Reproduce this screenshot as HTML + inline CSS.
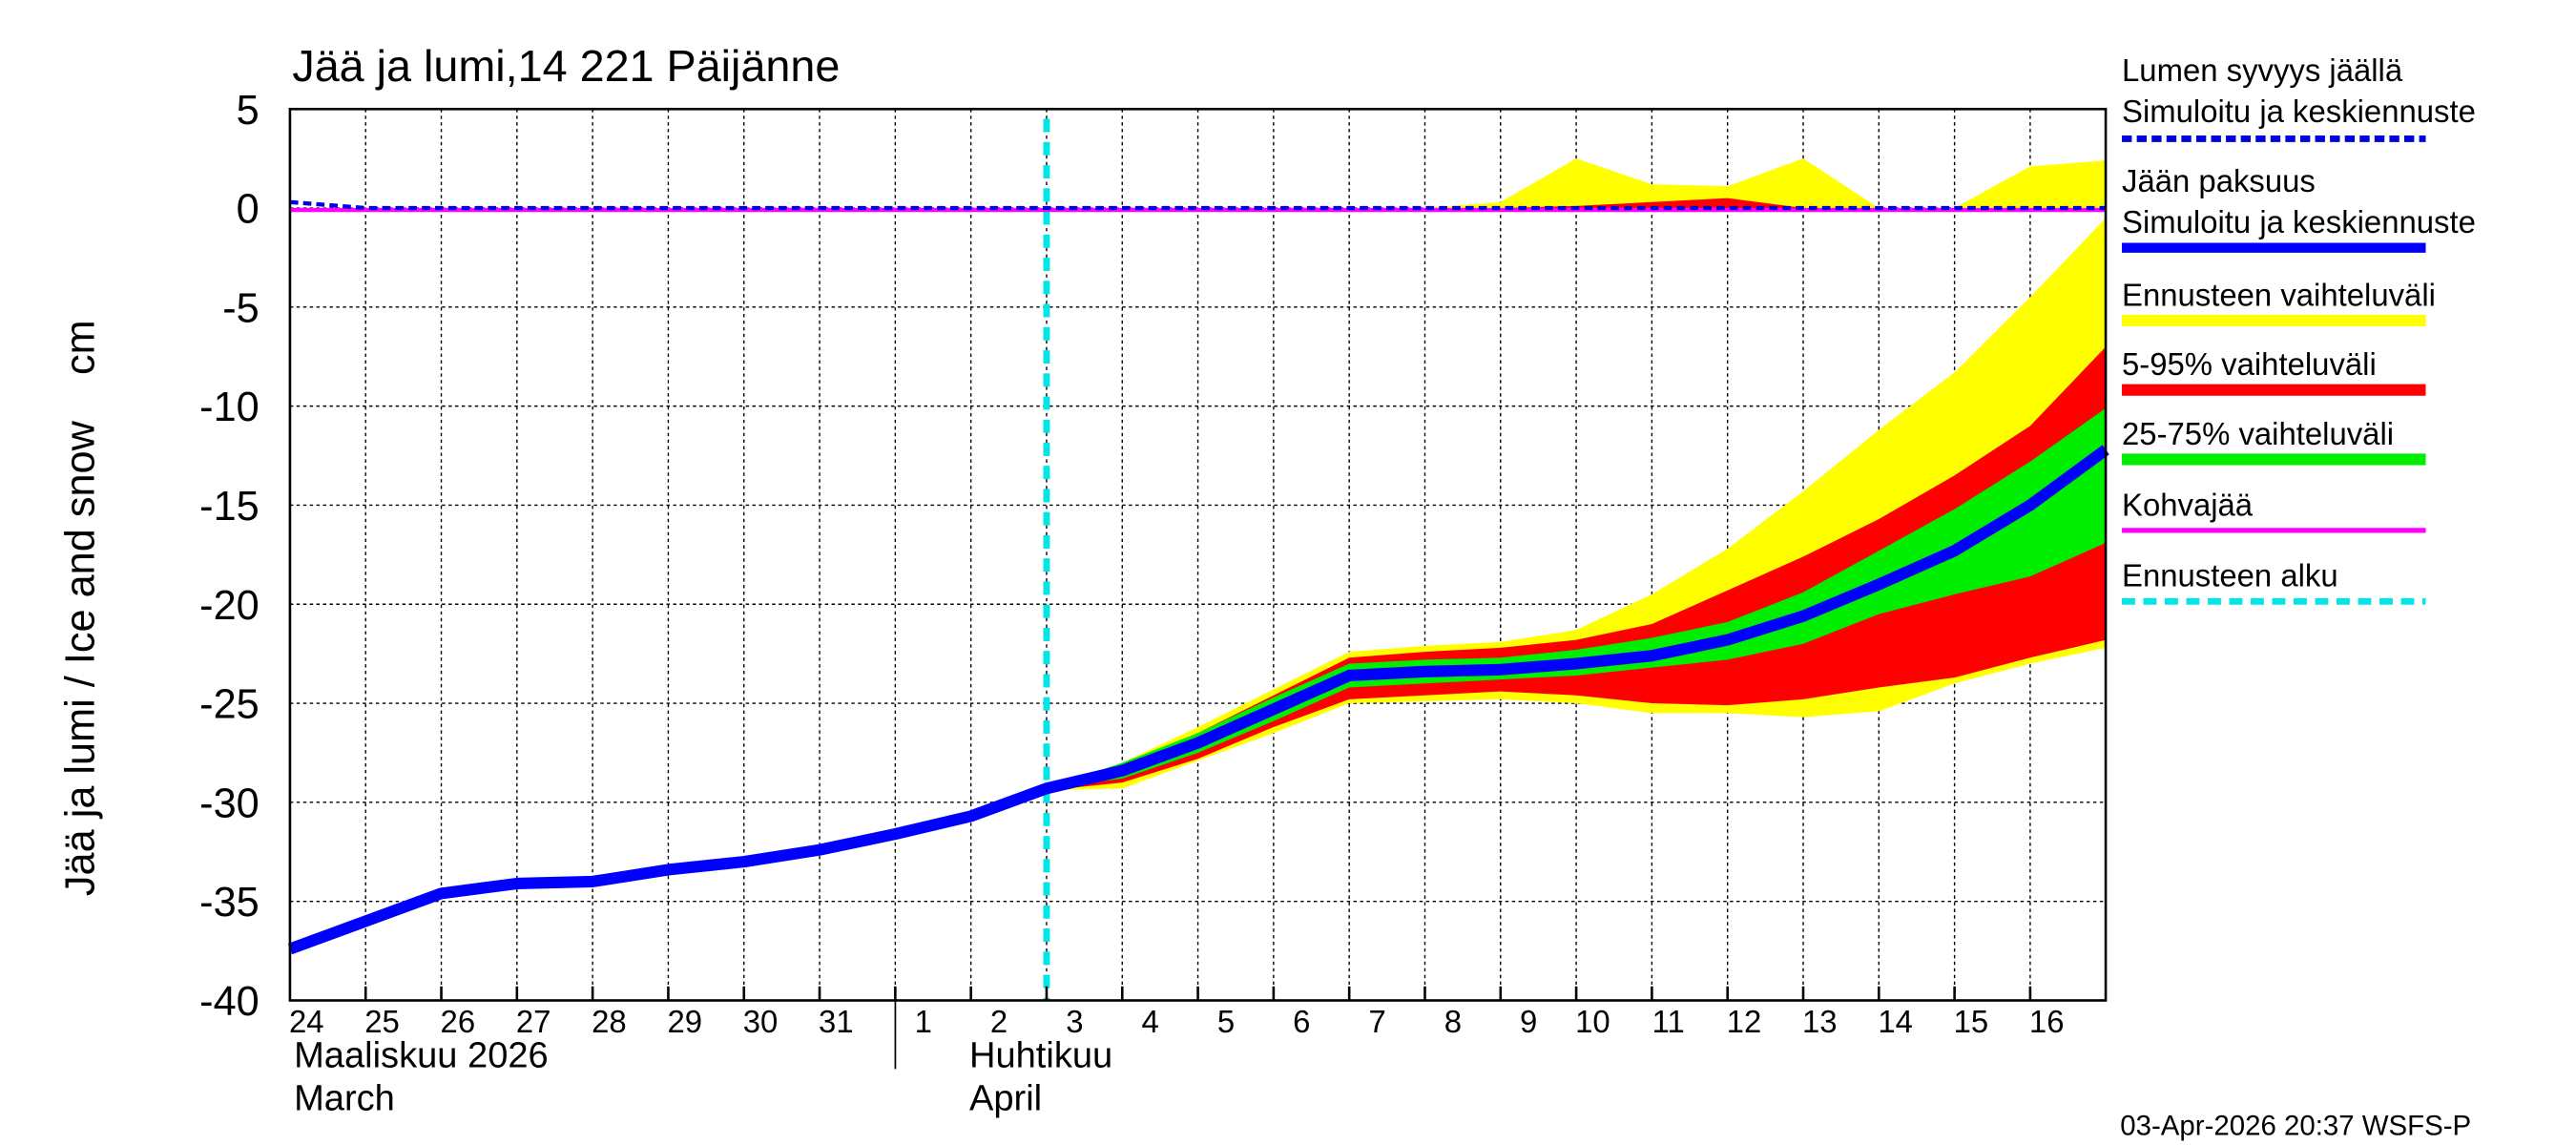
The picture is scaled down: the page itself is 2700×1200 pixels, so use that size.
<!DOCTYPE html>
<html><head><meta charset="utf-8"><style>html,body{margin:0;padding:0;background:#fff}svg{display:block}</style></head>
<body>
<svg width="2700" height="1200" viewBox="0 0 1560 693" preserveAspectRatio="none" xmlns="http://www.w3.org/2000/svg" font-family="Liberation Sans, sans-serif">
<rect width="1560" height="693" fill="#fff"/>
<g id="grid" stroke="#000" stroke-width="0.8" stroke-dasharray="2,2"></g>
<g stroke="#000" stroke-width="0.8" stroke-dasharray="2,2" id="vg"></g>
<g id="bands"></g>
<line x1="633.8" x2="633.8" y1="72" y2="605.5" stroke="#00e5e5" stroke-width="4" stroke-dasharray="8,6"/>
<g id="lines"></g>
<rect x="175.6" y="66" width="1099.6" height="539.5" fill="none" stroke="#000" stroke-width="1.5"/>
<g font-size="25" text-anchor="end" fill="#000" id="yl"></g>
<g stroke="#000" stroke-width="1.5" id="ticks"></g>
<g font-size="19" id="xl"></g>
<line x1="542.2" x2="542.2" y1="605" y2="647" stroke="#000" stroke-width="1"/>
<g font-size="22"><text x="178" y="646">Maaliskuu 2026</text><text x="178" y="672">March</text><text x="587" y="646">Huhtikuu</text><text x="587" y="672">April</text></g>
<text x="177" y="49" font-size="27">Jää ja lumi,14 221 Päijänne</text>
<text transform="translate(57,368) rotate(-90)" font-size="25" text-anchor="middle" xml:space="preserve">Jää ja lumi / Ice and snow    cm</text>
<text x="1284" y="687" font-size="17">03-Apr-2026 20:37 WSFS-P</text>
<g font-size="19">
<text x="1285" y="49">Lumen syvyys jäällä</text><text x="1285" y="74">Simuloitu ja keskiennuste</text>
<line x1="1285" x2="1469" y1="84" y2="84" stroke="#0000e0" stroke-width="4" stroke-dasharray="6,3"/>
<text x="1285" y="116">Jään paksuus</text><text x="1285" y="141">Simuloitu ja keskiennuste</text>
<line x1="1285" x2="1469" y1="150" y2="150" stroke="#0000ff" stroke-width="6"/>
<text x="1285" y="185">Ennusteen vaihteluväli</text><line x1="1285" x2="1469" y1="194" y2="194" stroke="#ffff00" stroke-width="7"/>
<text x="1285" y="227">5-95% vaihteluväli</text><line x1="1285" x2="1469" y1="236" y2="236" stroke="#ff0000" stroke-width="7"/>
<text x="1285" y="269">25-75% vaihteluväli</text><line x1="1285" x2="1469" y1="278" y2="278" stroke="#00ee00" stroke-width="7"/>
<text x="1285" y="312">Kohvajää</text><line x1="1285" x2="1469" y1="321" y2="321" stroke="#ff00ff" stroke-width="3"/>
<text x="1285" y="355">Ennusteen alku</text><line x1="1285" x2="1469" y1="364" y2="364" stroke="#00e5e5" stroke-width="4" stroke-dasharray="8,5"/>
</g>
<script>
const X=d=>175.6+d*45.82, Y=v=>125.9-v*11.99, ns="http://www.w3.org/2000/svg";
function el(p,t,a){const e=document.createElementNS(ns,t);for(const k in a)e.setAttribute(k,a[k]);document.getElementById(p).appendChild(e);return e;}
for(let v=5;v>=-40;v-=5){if(v>-40)el('grid','line',{x1:X(0),x2:X(24),y1:Y(v),y2:Y(v)});const t=el('yl','text',{x:157,y:Y(v)+9});t.textContent=v;}
for(let d=1;d<24;d++){el('vg','line',{x1:X(d),x2:X(d),y1:66,y2:605.5});el('ticks','line',{x1:X(d),x2:X(d),y1:597,y2:605.5});}
const days=[24,25,26,27,28,29,30,31,1,2,3,4,5,6,7,8,9,10,11,12,13,14,15,16];
days.forEach((n,i)=>{const t=el('xl','text',{x:X(i)+(n>9?10:17),y:625,'text-anchor':'middle'});t.textContent=n;});
const s=10;
function band(up,lo,c,st){let p=up.map((v,i)=>X(st+i)+','+Y(v));for(let i=lo.length-1;i>=0;i--)p.push(X(st+i)+','+Y(lo[i]));el('bands','polygon',{points:p.join(' '),fill:c});}
band([-29.3,-28.0,-26.2,-24.3,-22.4,-22.1,-21.9,-21.3,-19.5,-17.2,-14.3,-11.2,-8.3,-4.5,-0.5],[-29.4,-29.3,-27.9,-26.5,-25.0,-24.9,-24.8,-25.0,-25.5,-25.5,-25.7,-25.4,-24,-23,-22.2],'#ffff00',s);
band([-29.3,-28.2,-26.5,-24.6,-22.7,-22.4,-22.2,-21.8,-21,-19.3,-17.6,-15.7,-13.5,-11,-7],[-29.4,-29,-27.8,-26.2,-24.8,-24.6,-24.4,-24.6,-25,-25.1,-24.8,-24.2,-23.7,-22.7,-21.8],'#ff0000',s);
const bl=[-37.4,-36,-34.6,-34.1,-34.0,-33.4,-33.0,-32.4,-31.6,-30.7,-29.3,-28.4,-27.0,-25.3,-23.6,-23.4,-23.3,-23.0,-22.6,-21.8,-20.6,-19.0,-17.3,-15.0,-12.2];
const gu=bl.slice(10).map((v,i)=>v+[0,0.4,0.5,0.6,0.6,0.6,0.6,0.7,0.9,0.9,1.2,1.7,2.1,2.2,2.1][i]);
band(gu,[-29.3,-28.8,-27.5,-25.9,-24.2,-24.0,-23.8,-23.6,-23.2,-22.8,-22,-20.5,-19.5,-18.6,-16.9],'#00ee00',s);
band([0,0.3,2.5,1.2,1.1,2.5,0,0,2.1,2.4],[0,0,0,0,0,0,0,0,0,0],'#ffff00',15);
band([0,0.1,0.3,0.5,0],[0,0,0,0,0],'#ff0000',16);
el('lines','line',{x1:X(0),x2:X(24),y1:Y(-0.1),y2:Y(-0.1),stroke:'#ff00ff','stroke-width':2.5});
el('lines','polyline',{points:`${X(0)},${Y(0.3)} ${X(1)},${Y(0)} ${X(24)},${Y(0)}`,fill:'none',stroke:'#0000e0','stroke-width':2.5,'stroke-dasharray':'5,3'});
el('lines','polyline',{points:bl.map((v,i)=>X(i)+','+Y(v)).join(' '),fill:'none',stroke:'#0000ff','stroke-width':7,'stroke-linejoin':'round'});
</script>
</svg>
</body></html>
